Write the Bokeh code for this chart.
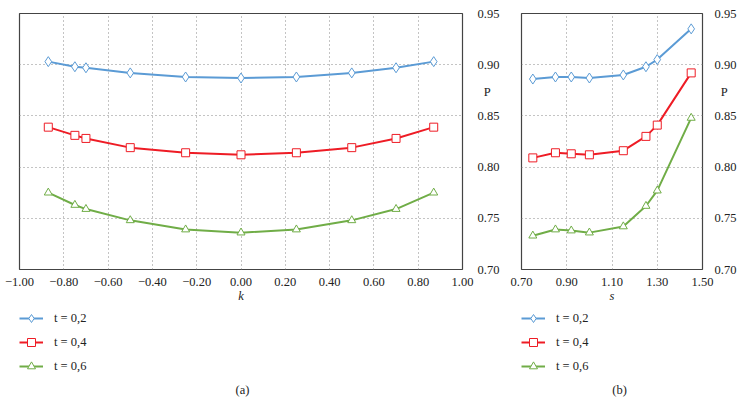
from bokeh.plotting import figure
from bokeh.models import (Range1d, FixedTicker, CustomJSTickFormatter, Legend, LegendItem, Label)
from bokeh.layouts import row, column
from bokeh.embed import file_html
from bokeh.resources import INLINE

# ---- data ----
k_vals = [-0.87, -0.75, -0.70, -0.50, -0.25, 0.00, 0.25, 0.50, 0.70, 0.87]
pk_t02 = [0.903, 0.898, 0.897, 0.892, 0.888, 0.887, 0.888, 0.892, 0.897, 0.903]
pk_t04 = [0.839, 0.831, 0.828, 0.819, 0.814, 0.812, 0.814, 0.819, 0.828, 0.839]
pk_t06 = [0.775, 0.763, 0.759, 0.748, 0.739, 0.736, 0.739, 0.748, 0.759, 0.775]

s_vals = [0.75, 0.85, 0.92, 1.00, 1.15, 1.25, 1.30, 1.45]
ps_t02 = [0.886, 0.888, 0.888, 0.887, 0.890, 0.898, 0.905, 0.935]
ps_t04 = [0.809, 0.814, 0.813, 0.812, 0.816, 0.830, 0.841, 0.892]
ps_t06 = [0.733, 0.739, 0.738, 0.736, 0.742, 0.762, 0.777, 0.848]

series_labels = ["t = 0,2", "t = 0,4", "t = 0,6"]
colors = ["#5b9bd5", "#ee1c25", "#70ad47"]
markers = ["diamond", "square", "triangle"]
msizes = [10, 8, 8]

k_ticks = [-1.0, -0.8, -0.6, -0.4, -0.2, 0.0, 0.2, 0.4, 0.6, 0.8, 1.0]
s_ticks = [0.7, 0.9, 1.1, 1.3, 1.5]
p_ticks = [0.70, 0.75, 0.80, 0.85, 0.90, 0.95]
p_label = "P"
p_label_at = 0.873   # height of the "P" axis title among the right-hand tick labels
captions = ["(a)", "(b)"]

SERIF = "Liberation Serif"
TXT = "#222222"

fmt_x = CustomJSTickFormatter(code="""
    if (Math.abs(tick) < 1e-9) { return '0.00'; }
    return tick.toFixed(2).replace('-', '\u2212');
""")
fmt_y = CustomJSTickFormatter(args=dict(lab=p_label, at=p_label_at), code="""
    if (Math.abs(tick - at) < 1e-6) { return '\u00a0\u00a0' + lab; }
    return tick.toFixed(2);
""")


def add_series(p, xs, ys_list):
    rs = []
    for ys, c, m, ms in zip(ys_list, colors, markers, msizes):
        rl = p.line(xs, ys, line_color=c, line_width=2)
        rm = p.scatter(xs, ys, marker=m, size=ms, line_color=c, fill_color="white", line_width=1)
        rs.append([rl, rm])
    return rs


def make_fig(xs, ys_list, xr, xticks, xlabel, width, mb_left, mb_right, y_standoff):
    p = figure(width=width, height=307, output_backend="svg", toolbar_location=None,
               x_range=Range1d(*xr), y_range=Range1d(0.70, 0.95),
               y_axis_location="right",
               min_border_left=mb_left, min_border_right=mb_right,
               min_border_top=13, min_border_bottom=38)
    p.outline_line_color = "#444444"
    p.outline_line_width = 1.2
    for ax in (p.xaxis[0], p.yaxis[0]):
        ax.axis_line_color = None
        ax.major_tick_line_color = None
        ax.minor_tick_line_color = None
        ax.major_label_text_font = SERIF
        ax.major_label_text_font_size = "12.5px"
        ax.major_label_text_color = TXT
    p.xaxis.formatter = fmt_x
    p.yaxis.formatter = fmt_y
    p.xaxis.ticker = FixedTicker(ticks=xticks)
    p.yaxis.ticker = FixedTicker(ticks=p_ticks + [p_label_at])
    p.ygrid.ticker = FixedTicker(ticks=p_ticks)
    p.xgrid.ticker = FixedTicker(ticks=xticks)
    p.xaxis.major_label_standoff = 2
    p.yaxis.major_label_standoff = y_standoff
    p.xaxis.axis_label = xlabel
    p.xaxis.axis_label_text_font = SERIF
    p.xaxis.axis_label_text_font_style = "italic"
    p.xaxis.axis_label_text_font_size = "12.5px"
    p.xaxis.axis_label_standoff = 0
    p.xaxis.axis_label_text_color = TXT
    for g in (p.xgrid, p.ygrid):
        g.grid_line_color = "#888888"
        g.grid_line_dash = "1 3"
        g.grid_line_width = 1
    add_series(p, xs, ys_list)
    return p


def make_legend_fig(xs, ys_list, xr, width, mb_left, mb_right, caption, cap_x):
    # legend panel under each chart; its series renderers lie outside its y range
    q = figure(width=width, height=91, output_backend="svg", toolbar_location=None,
               x_range=Range1d(*xr), y_range=Range1d(10, 11),
               x_axis_type=None, y_axis_type=None,
               min_border_left=mb_left, min_border_right=mb_right,
               min_border_top=1, min_border_bottom=0)
    q.grid.visible = False
    q.outline_line_color = None
    rs = add_series(q, xs, ys_list)
    items = [LegendItem(label=lab, renderers=r) for lab, r in zip(series_labels, rs)]
    leg = Legend(items=items, location="top_left", orientation="vertical",
                 padding=0, margin=0, spacing=4, glyph_width=24, glyph_height=20,
                 label_height=20, label_standoff=11, border_line_color=None,
                 background_fill_alpha=0,
                 label_text_font=SERIF, label_text_font_size="12.5px",
                 label_text_color=TXT)
    q.add_layout(leg)
    q.add_layout(Label(x=cap_x, y=9, x_units="screen", y_units="screen", text=caption,
                       text_font=SERIF, text_font_size="12.5px", text_align="center",
                       text_baseline="middle", text_color=TXT))
    return q


p1 = make_fig(k_vals, [pk_t02, pk_t04, pk_t06], (-1.0, 1.0), k_ticks, "k", 505, 19, 43, 9)
p2 = make_fig(s_vals, [ps_t02, ps_t04, ps_t06], (0.7, 1.5), s_ticks, "s", 234, 16, 37, 6)
q1 = make_legend_fig(k_vals, [pk_t02, pk_t04, pk_t06], (-1.0, 1.0), 505, 19, 43, captions[0], 223)
q2 = make_legend_fig(s_vals, [ps_t02, ps_t04, ps_t06], (0.7, 1.5), 234, 16, 37, captions[1], 98)

layout = column(row(p1, p2, spacing=0), row(q1, q2, spacing=0), spacing=0)
open("out.html", "w").write(file_html(layout, INLINE))
